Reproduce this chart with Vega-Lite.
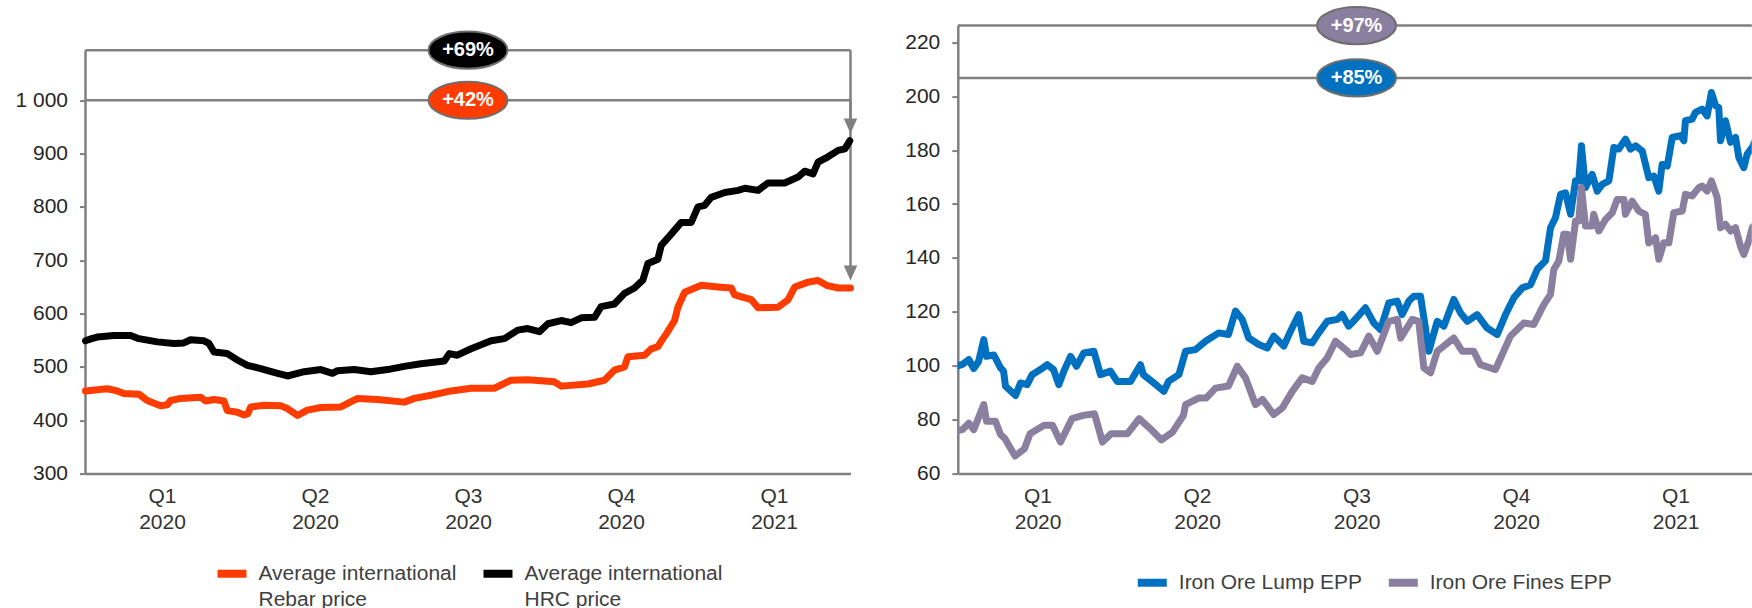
{
 "$schema": "https://vega.github.io/schema/vega-lite/v6.json",
 "padding": {"left": 14.5, "top": 2.6, "right": 0, "bottom": 0},
 "background": "white",
 "spacing": 46.3,
 "config": {
  "font": "Liberation Sans",
  "view": {"stroke": null},
  "axis": {"grid": false, "domainColor": "#808080", "domainWidth": 2.5, "tickColor": "#808080", "tickWidth": 2, "tickSize": 6, "labelColor": "#262626", "labelFont": "Liberation Sans", "title": null},
  "legend": {"title": null, "orient": "none", "direction": "horizontal", "symbolType": "stroke", "symbolStrokeWidth": 8, "symbolSize": 841, "labelFontSize": 21, "labelColor": "#404040", "labelOffset": 8, "columnPadding": 10, "labelLimit": 400},
  "style": {"guide-label": {"lineHeight": 26}}
 },
 "resolve": {"scale": {"color": "independent", "fill": "independent", "x": "independent", "y": "independent"}, "legend": {"color": "independent"}},
 "hconcat": [
  {
   "width": 765, "height": 448,
   "layer": [
    {
     "data": {"values": [
      {"x": 0, "x2": 5, "y": 1094, "y2": 1094},
      {"x": 0, "x2": 5, "y": 1000, "y2": 1000},
      {"x": 0, "x2": 0, "y": 300, "y2": 1094},
      {"x": 5, "x2": 5, "y": 1094, "y2": 962},
      {"x": 5, "x2": 5, "y": 1000, "y2": 688}
     ]},
     "mark": {"type": "rule", "color": "#808080", "strokeWidth": 2.5},
     "encoding": {
      "x": {"field": "x", "type": "quantitative", "scale": {"domain": [0, 5], "nice": false, "zero": false},
            "axis": {"values": [0.5, 1.5, 2.5, 3.5, 4.5], "ticks": false, "labelFontSize": 21, "labelColor": "#333333", "labelPadding": 12, "labelLineHeight": 26,
                     "labelExpr": "datum.value < 1 ? ['Q1','2020'] : datum.value < 2 ? ['Q2','2020'] : datum.value < 3 ? ['Q3','2020'] : datum.value < 4 ? ['Q4','2020'] : ['Q1','2021']"}},
      "x2": {"field": "x2"},
      "y": {"field": "y", "type": "quantitative", "scale": {"domain": [300, 1140], "nice": false, "zero": false},
            "axis": {"values": [300, 400, 500, 600, 700, 800, 900, 1000], "domain": false, "labelFontSize": 21, "labelPadding": 12,
                     "labelExpr": "datum.value == 1000 ? '1 000' : datum.label"}},
      "y2": {"field": "y2"}
     }
    },
    {
     "data": {"values": [
      {"s":"HRC","q":0,"v":549},{"s":"HRC","q":0.04,"v":553},{"s":"HRC","q":0.077,"v":556},{"s":"HRC","q":0.185,"v":559},{"s":"HRC","q":0.295,"v":559},{"s":"HRC","q":0.349,"v":553},{"s":"HRC","q":0.469,"v":547},{"s":"HRC","q":0.578,"v":544},{"s":"HRC","q":0.643,"v":545},{"s":"HRC","q":0.687,"v":551},{"s":"HRC","q":0.774,"v":549},{"s":"HRC","q":0.807,"v":544},{"s":"HRC","q":0.84,"v":528},{"s":"HRC","q":0.927,"v":525},{"s":"HRC","q":0.993,"v":513},{"s":"HRC","q":1.058,"v":503},{"s":"HRC","q":1.145,"v":497},{"s":"HRC","q":1.232,"v":490},{"s":"HRC","q":1.32,"v":483},{"s":"HRC","q":1.429,"v":491},{"s":"HRC","q":1.538,"v":495},{"s":"HRC","q":1.614,"v":488},{"s":"HRC","q":1.647,"v":493},{"s":"HRC","q":1.756,"v":495},{"s":"HRC","q":1.865,"v":491},{"s":"HRC","q":1.974,"v":495},{"s":"HRC","q":2.083,"v":501},{"s":"HRC","q":2.192,"v":506},{"s":"HRC","q":2.345,"v":511},{"s":"HRC","q":2.378,"v":525},{"s":"HRC","q":2.43,"v":522},{"s":"HRC","q":2.52,"v":534},{"s":"HRC","q":2.651,"v":549},{"s":"HRC","q":2.738,"v":553},{"s":"HRC","q":2.825,"v":569},{"s":"HRC","q":2.89,"v":572},{"s":"HRC","q":2.967,"v":566},{"s":"HRC","q":3.022,"v":581},{"s":"HRC","q":3.109,"v":587},{"s":"HRC","q":3.174,"v":583},{"s":"HRC","q":3.24,"v":592},{"s":"HRC","q":3.327,"v":593},{"s":"HRC","q":3.37,"v":613},{"s":"HRC","q":3.457,"v":618},{"s":"HRC","q":3.523,"v":638},{"s":"HRC","q":3.588,"v":648},{"s":"HRC","q":3.643,"v":663},{"s":"HRC","q":3.676,"v":694},{"s":"HRC","q":3.741,"v":702},{"s":"HRC","q":3.763,"v":728},{"s":"HRC","q":3.828,"v":749},{"s":"HRC","q":3.894,"v":771},{"s":"HRC","q":3.959,"v":771},{"s":"HRC","q":4.003,"v":800},{"s":"HRC","q":4.047,"v":803},{"s":"HRC","q":4.09,"v":818},{"s":"HRC","q":4.178,"v":827},{"s":"HRC","q":4.265,"v":831},{"s":"HRC","q":4.31,"v":835},{"s":"HRC","q":4.396,"v":831},{"s":"HRC","q":4.461,"v":845},{"s":"HRC","q":4.57,"v":845},{"s":"HRC","q":4.657,"v":856},{"s":"HRC","q":4.701,"v":867},{"s":"HRC","q":4.755,"v":862},{"s":"HRC","q":4.788,"v":884},{"s":"HRC","q":4.853,"v":894},{"s":"HRC","q":4.919,"v":906},{"s":"HRC","q":4.963,"v":909},{"s":"HRC","q":4.995,"v":924},
      {"s":"Rebar","q":0,"v":455},{"s":"Rebar","q":0.142,"v":459},{"s":"Rebar","q":0.207,"v":455},{"s":"Rebar","q":0.25,"v":450},{"s":"Rebar","q":0.349,"v":449},{"s":"Rebar","q":0.403,"v":437},{"s":"Rebar","q":0.491,"v":427},{"s":"Rebar","q":0.534,"v":429},{"s":"Rebar","q":0.556,"v":437},{"s":"Rebar","q":0.622,"v":441},{"s":"Rebar","q":0.753,"v":443},{"s":"Rebar","q":0.785,"v":436},{"s":"Rebar","q":0.84,"v":439},{"s":"Rebar","q":0.905,"v":436},{"s":"Rebar","q":0.927,"v":418},{"s":"Rebar","q":0.993,"v":415},{"s":"Rebar","q":1.036,"v":410},{"s":"Rebar","q":1.06,"v":412},{"s":"Rebar","q":1.08,"v":425},{"s":"Rebar","q":1.167,"v":428},{"s":"Rebar","q":1.276,"v":427},{"s":"Rebar","q":1.32,"v":422},{"s":"Rebar","q":1.385,"v":409},{"s":"Rebar","q":1.45,"v":419},{"s":"Rebar","q":1.538,"v":424},{"s":"Rebar","q":1.669,"v":425},{"s":"Rebar","q":1.778,"v":441},{"s":"Rebar","q":1.909,"v":439},{"s":"Rebar","q":2.083,"v":434},{"s":"Rebar","q":2.149,"v":441},{"s":"Rebar","q":2.258,"v":447},{"s":"Rebar","q":2.389,"v":455},{"s":"Rebar","q":2.52,"v":460},{"s":"Rebar","q":2.672,"v":460},{"s":"Rebar","q":2.781,"v":475},{"s":"Rebar","q":2.89,"v":476},{"s":"Rebar","q":3.065,"v":472},{"s":"Rebar","q":3.109,"v":464},{"s":"Rebar","q":3.283,"v":468},{"s":"Rebar","q":3.392,"v":475},{"s":"Rebar","q":3.457,"v":494},{"s":"Rebar","q":3.523,"v":500},{"s":"Rebar","q":3.545,"v":519},{"s":"Rebar","q":3.654,"v":522},{"s":"Rebar","q":3.698,"v":534},{"s":"Rebar","q":3.741,"v":538},{"s":"Rebar","q":3.763,"v":548},{"s":"Rebar","q":3.796,"v":562},{"s":"Rebar","q":3.85,"v":587},{"s":"Rebar","q":3.872,"v":612},{"s":"Rebar","q":3.916,"v":640},{"s":"Rebar","q":4.025,"v":653},{"s":"Rebar","q":4.134,"v":650},{"s":"Rebar","q":4.221,"v":648},{"s":"Rebar","q":4.243,"v":635},{"s":"Rebar","q":4.352,"v":626},{"s":"Rebar","q":4.396,"v":611},{"s":"Rebar","q":4.526,"v":612},{"s":"Rebar","q":4.592,"v":626},{"s":"Rebar","q":4.636,"v":650},{"s":"Rebar","q":4.723,"v":659},{"s":"Rebar","q":4.788,"v":662},{"s":"Rebar","q":4.843,"v":653},{"s":"Rebar","q":4.919,"v":648},{"s":"Rebar","q":5.0,"v":648}
     ]},
     "mark": {"type": "line", "strokeWidth": 7, "strokeJoin": "round", "strokeCap": "round"},
     "encoding": {
      "x": {"field": "q", "type": "quantitative"},
      "y": {"field": "v", "type": "quantitative"},
      "color": {"field": "s", "type": "nominal", "scale": {"domain": ["Rebar", "HRC"], "range": ["#FF3C00", "#000000"]},
                "legend": {"legendX": 128, "legendY": 529.4, "labelExpr": "datum.label == 'Rebar' ? ['Average international','Rebar price'] : ['Average international','HRC price']"}}
     }
    },
    {
     "data": {"values": [{"x": 5, "y": 937.5}, {"x": 5, "y": 662}]},
     "mark": {"type": "point", "shape": "M-0.45,-1L0.45,-1L0,0Z", "filled": true, "color": "#808080", "size": 900, "opacity": 1},
     "encoding": {"x": {"field": "x", "type": "quantitative"}, "y": {"field": "y", "type": "quantitative"}}
    },
    {
     "data": {"values": [{"x": 2.5, "y": 1094, "t": "+69%", "s": "HRC"}, {"x": 2.5, "y": 1000, "t": "+42%", "s": "Rebar"}]},
     "layer": [
      {
       "mark": {"type": "point", "shape": "M-1,0C-1,-0.26 -0.552,-0.47 0,-0.47C0.552,-0.47 1,-0.26 1,0C1,0.26 0.552,0.47 0,0.47C-0.552,0.47 -1,0.26 -1,0Z", "filled": true, "size": 6241, "stroke": "#6e6e6e", "strokeWidth": 2, "opacity": 1},
       "encoding": {"x": {"field": "x", "type": "quantitative"}, "y": {"field": "y", "type": "quantitative"},
                    "fill": {"field": "s", "type": "nominal", "scale": {"domain": ["Rebar", "HRC"], "range": ["#FF3C00", "#000000"]}, "legend": null}}
      },
      {
       "mark": {"type": "text", "color": "white", "fontWeight": "bold", "fontSize": 20, "baseline": "middle", "align": "center"},
       "encoding": {"x": {"field": "x", "type": "quantitative"}, "y": {"field": "y", "type": "quantitative"}, "text": {"field": "t"}}
      }
     ]
    }
   ]
  },
  {
   "width": 794, "height": 448,
   "layer": [
    {
     "data": {"values": [
      {"x": 0, "x2": 4.978, "y": 226.2, "y2": 226.2},
      {"x": 0, "x2": 4.978, "y": 206.8, "y2": 206.8}
     ]},
     "mark": {"type": "rule", "color": "#808080", "strokeWidth": 2.5},
     "encoding": {
      "x": {"field": "x", "type": "quantitative", "scale": {"domain": [0, 4.978], "nice": false, "zero": false},
            "axis": {"values": [0.5, 1.5, 2.5, 3.5, 4.5], "ticks": false, "labelFontSize": 21, "labelColor": "#333333", "labelPadding": 12, "labelLineHeight": 26,
                     "labelExpr": "datum.value < 1 ? ['Q1','2020'] : datum.value < 2 ? ['Q2','2020'] : datum.value < 3 ? ['Q3','2020'] : datum.value < 4 ? ['Q4','2020'] : ['Q1','2021']"}},
      "x2": {"field": "x2"},
      "y": {"field": "y", "type": "quantitative", "scale": {"domain": [60, 226.2], "nice": false, "zero": false},
            "axis": {"values": [60, 80, 100, 120, 140, 160, 180, 200, 220], "labelFontSize": 21, "labelPadding": 12}},
      "y2": {"field": "y2"}
     }
    },
    {
     "data": {"values": [
      {"s":"Lump","q":0,"v":100},{"s":"Lump","q":0.029,"v":100.5},{"s":"Lump","q":0.069,"v":102.3},{"s":"Lump","q":0.1,"v":99},{"s":"Lump","q":0.13,"v":101.6},{"s":"Lump","q":0.163,"v":109.7},{"s":"Lump","q":0.18,"v":103.5},{"s":"Lump","q":0.226,"v":104},{"s":"Lump","q":0.268,"v":99.2},{"s":"Lump","q":0.287,"v":98},{"s":"Lump","q":0.299,"v":92.4},{"s":"Lump","q":0.362,"v":89},{"s":"Lump","q":0.393,"v":93.6},{"s":"Lump","q":0.435,"v":93},{"s":"Lump","q":0.466,"v":96.7},{"s":"Lump","q":0.518,"v":98.6},{"s":"Lump","q":0.561,"v":100.4},{"s":"Lump","q":0.6,"v":98.6},{"s":"Lump","q":0.633,"v":93},{"s":"Lump","q":0.665,"v":98},{"s":"Lump","q":0.707,"v":103.5},{"s":"Lump","q":0.744,"v":99.8},{"s":"Lump","q":0.79,"v":104.8},{"s":"Lump","q":0.853,"v":105.4},{"s":"Lump","q":0.895,"v":96.7},{"s":"Lump","q":0.957,"v":98},{"s":"Lump","q":0.999,"v":94.2},{"s":"Lump","q":1.083,"v":94.2},{"s":"Lump","q":1.145,"v":100.4},{"s":"Lump","q":1.164,"v":96.7},{"s":"Lump","q":1.229,"v":93.6},{"s":"Lump","q":1.292,"v":90.5},{"s":"Lump","q":1.321,"v":94.2},{"s":"Lump","q":1.386,"v":96.7},{"s":"Lump","q":1.428,"v":105.4},{"s":"Lump","q":1.49,"v":106},{"s":"Lump","q":1.553,"v":109.1},{"s":"Lump","q":1.636,"v":112.2},{"s":"Lump","q":1.697,"v":111.6},{"s":"Lump","q":1.741,"v":120.3},{"s":"Lump","q":1.783,"v":117.2},{"s":"Lump","q":1.824,"v":110.3},{"s":"Lump","q":1.887,"v":107.9},{"s":"Lump","q":1.94,"v":106.6},{"s":"Lump","q":1.981,"v":111},{"s":"Lump","q":2.044,"v":107.3},{"s":"Lump","q":2.086,"v":112.8},{"s":"Lump","q":2.138,"v":119},{"s":"Lump","q":2.169,"v":109.1},{"s":"Lump","q":2.222,"v":108.5},{"s":"Lump","q":2.263,"v":112.2},{"s":"Lump","q":2.316,"v":116.5},{"s":"Lump","q":2.379,"v":117.2},{"s":"Lump","q":2.41,"v":119},{"s":"Lump","q":2.45,"v":114.7},{"s":"Lump","q":2.481,"v":116.5},{"s":"Lump","q":2.556,"v":121.5},{"s":"Lump","q":2.608,"v":115.9},{"s":"Lump","q":2.65,"v":113.4},{"s":"Lump","q":2.702,"v":123.3},{"s":"Lump","q":2.755,"v":124},{"s":"Lump","q":2.786,"v":119},{"s":"Lump","q":2.828,"v":124},{"s":"Lump","q":2.859,"v":125.8},{"s":"Lump","q":2.901,"v":125.8},{"s":"Lump","q":2.932,"v":114},{"s":"Lump","q":2.953,"v":105.4},{"s":"Lump","q":3.006,"v":116.5},{"s":"Lump","q":3.047,"v":114.7},{"s":"Lump","q":3.11,"v":124.6},{"s":"Lump","q":3.152,"v":119.6},{"s":"Lump","q":3.194,"v":116.5},{"s":"Lump","q":3.256,"v":119},{"s":"Lump","q":3.319,"v":114},{"s":"Lump","q":3.382,"v":111.6},{"s":"Lump","q":3.434,"v":119},{"s":"Lump","q":3.486,"v":125.2},{"s":"Lump","q":3.539,"v":128.9},{"s":"Lump","q":3.591,"v":130.1},{"s":"Lump","q":3.633,"v":135.8},{"s":"Lump","q":3.685,"v":139},{"s":"Lump","q":3.716,"v":151.2},{"s":"Lump","q":3.747,"v":154.9},{"s":"Lump","q":3.779,"v":163.6},{"s":"Lump","q":3.81,"v":164.2},{"s":"Lump","q":3.842,"v":156.2},{"s":"Lump","q":3.873,"v":168.6},{"s":"Lump","q":3.893,"v":168.6},{"s":"Lump","q":3.91,"v":181.6},{"s":"Lump","q":3.935,"v":166.1},{"s":"Lump","q":3.977,"v":171},{"s":"Lump","q":4.009,"v":164.8},{"s":"Lump","q":4.04,"v":167.3},{"s":"Lump","q":4.082,"v":168.6},{"s":"Lump","q":4.113,"v":181},{"s":"Lump","q":4.144,"v":180.4},{"s":"Lump","q":4.186,"v":184.1},{"s":"Lump","q":4.218,"v":180.4},{"s":"Lump","q":4.249,"v":181.6},{"s":"Lump","q":4.291,"v":179.7},{"s":"Lump","q":4.332,"v":169.8},{"s":"Lump","q":4.364,"v":170.4},{"s":"Lump","q":4.395,"v":164.8},{"s":"Lump","q":4.416,"v":174.7},{"s":"Lump","q":4.448,"v":174.1},{"s":"Lump","q":4.479,"v":184.7},{"s":"Lump","q":4.531,"v":185.4},{"s":"Lump","q":4.552,"v":183.5},{"s":"Lump","q":4.562,"v":190.9},{"s":"Lump","q":4.604,"v":191.5},{"s":"Lump","q":4.625,"v":194},{"s":"Lump","q":4.667,"v":195.2},{"s":"Lump","q":4.698,"v":192.7},{"s":"Lump","q":4.725,"v":201.4},{"s":"Lump","q":4.751,"v":196.5},{"s":"Lump","q":4.771,"v":195.8},{"s":"Lump","q":4.782,"v":183.5},{"s":"Lump","q":4.813,"v":190.9},{"s":"Lump","q":4.845,"v":182.9},{"s":"Lump","q":4.876,"v":184.7},{"s":"Lump","q":4.897,"v":177.2},{"s":"Lump","q":4.928,"v":173.5},{"s":"Lump","q":4.949,"v":178.5},{"s":"Lump","q":4.981,"v":181},{"s":"Lump","q":5.033,"v":188}
     ]},
     "mark": {"type": "line", "strokeWidth": 7, "strokeJoin": "round", "strokeCap": "round", "clip": true},
     "encoding": {
      "x": {"field": "q", "type": "quantitative"},
      "y": {"field": "v", "type": "quantitative"},
      "color": {"field": "s", "type": "nominal", "scale": {"domain": ["Lump", "Fines"], "range": ["#0070C0", "#8A7F9F"]},
                "legend": {"legendX": 176, "legendY": 538.4, "labelExpr": "datum.label == 'Lump' ? 'Iron Ore Lump EPP' : 'Iron Ore Fines EPP'"}}
     }
    },
    {
     "data": {"values": [
      {"s":"Fines","q":0,"v":76},{"s":"Fines","q":0.029,"v":76.3},{"s":"Fines","q":0.069,"v":78.7},{"s":"Fines","q":0.1,"v":76.3},{"s":"Fines","q":0.163,"v":85.6},{"s":"Fines","q":0.18,"v":79.4},{"s":"Fines","q":0.236,"v":79.4},{"s":"Fines","q":0.268,"v":74.5},{"s":"Fines","q":0.296,"v":72.9},{"s":"Fines","q":0.359,"v":66.5},{"s":"Fines","q":0.418,"v":69.2},{"s":"Fines","q":0.453,"v":74.8},{"s":"Fines","q":0.541,"v":77.9},{"s":"Fines","q":0.594,"v":77.9},{"s":"Fines","q":0.644,"v":71.7},{"s":"Fines","q":0.716,"v":80.4},{"s":"Fines","q":0.786,"v":81.6},{"s":"Fines","q":0.857,"v":82.2},{"s":"Fines","q":0.907,"v":71.7},{"s":"Fines","q":0.961,"v":74.8},{"s":"Fines","q":1.064,"v":74.8},{"s":"Fines","q":1.137,"v":80.4},{"s":"Fines","q":1.206,"v":76.7},{"s":"Fines","q":1.277,"v":72.5},{"s":"Fines","q":1.346,"v":75.4},{"s":"Fines","q":1.415,"v":81.6},{"s":"Fines","q":1.428,"v":85.6},{"s":"Fines","q":1.509,"v":88},{"s":"Fines","q":1.557,"v":88},{"s":"Fines","q":1.616,"v":91.7},{"s":"Fines","q":1.697,"v":92.5},{"s":"Fines","q":1.752,"v":99.8},{"s":"Fines","q":1.804,"v":95.5},{"s":"Fines","q":1.866,"v":85.6},{"s":"Fines","q":1.91,"v":87.5},{"s":"Fines","q":1.981,"v":81.9},{"s":"Fines","q":2.034,"v":84.3},{"s":"Fines","q":2.097,"v":90.5},{"s":"Fines","q":2.159,"v":95.5},{"s":"Fines","q":2.222,"v":94.2},{"s":"Fines","q":2.263,"v":99.2},{"s":"Fines","q":2.316,"v":102.9},{"s":"Fines","q":2.368,"v":109.1},{"s":"Fines","q":2.431,"v":106},{"s":"Fines","q":2.462,"v":104.2},{"s":"Fines","q":2.525,"v":104.8},{"s":"Fines","q":2.577,"v":111},{"s":"Fines","q":2.63,"v":105.4},{"s":"Fines","q":2.702,"v":116.5},{"s":"Fines","q":2.755,"v":117.2},{"s":"Fines","q":2.777,"v":110.3},{"s":"Fines","q":2.849,"v":117.2},{"s":"Fines","q":2.89,"v":116.5},{"s":"Fines","q":2.922,"v":99.2},{"s":"Fines","q":2.964,"v":97.4},{"s":"Fines","q":3.006,"v":105.4},{"s":"Fines","q":3.11,"v":110.3},{"s":"Fines","q":3.162,"v":105.4},{"s":"Fines","q":3.235,"v":105.4},{"s":"Fines","q":3.277,"v":100.4},{"s":"Fines","q":3.371,"v":98.6},{"s":"Fines","q":3.465,"v":111},{"s":"Fines","q":3.549,"v":115.9},{"s":"Fines","q":3.611,"v":115.3},{"s":"Fines","q":3.674,"v":122.7},{"s":"Fines","q":3.716,"v":126.5},{"s":"Fines","q":3.737,"v":135.8},{"s":"Fines","q":3.768,"v":138.8},{"s":"Fines","q":3.799,"v":148.8},{"s":"Fines","q":3.821,"v":148.8},{"s":"Fines","q":3.842,"v":139.5},{"s":"Fines","q":3.873,"v":153.7},{"s":"Fines","q":3.893,"v":153.7},{"s":"Fines","q":3.91,"v":166.1},{"s":"Fines","q":3.935,"v":151.9},{"s":"Fines","q":3.977,"v":151.9},{"s":"Fines","q":3.987,"v":156.2},{"s":"Fines","q":4.019,"v":150},{"s":"Fines","q":4.061,"v":154.3},{"s":"Fines","q":4.103,"v":156.8},{"s":"Fines","q":4.134,"v":161.7},{"s":"Fines","q":4.176,"v":161.7},{"s":"Fines","q":4.186,"v":156.2},{"s":"Fines","q":4.228,"v":161.1},{"s":"Fines","q":4.27,"v":157.4},{"s":"Fines","q":4.311,"v":156.2},{"s":"Fines","q":4.332,"v":145.6},{"s":"Fines","q":4.375,"v":147.5},{"s":"Fines","q":4.395,"v":139.5},{"s":"Fines","q":4.426,"v":145.6},{"s":"Fines","q":4.458,"v":145.6},{"s":"Fines","q":4.489,"v":156.8},{"s":"Fines","q":4.542,"v":157.4},{"s":"Fines","q":4.562,"v":163.6},{"s":"Fines","q":4.604,"v":163},{"s":"Fines","q":4.646,"v":166.1},{"s":"Fines","q":4.667,"v":166.7},{"s":"Fines","q":4.698,"v":164.8},{"s":"Fines","q":4.725,"v":168.6},{"s":"Fines","q":4.761,"v":162.4},{"s":"Fines","q":4.782,"v":151.2},{"s":"Fines","q":4.813,"v":152.5},{"s":"Fines","q":4.845,"v":150},{"s":"Fines","q":4.876,"v":151.2},{"s":"Fines","q":4.907,"v":144.4},{"s":"Fines","q":4.928,"v":141.3},{"s":"Fines","q":4.959,"v":146.3},{"s":"Fines","q":4.981,"v":151.2},{"s":"Fines","q":5.033,"v":155}
     ]},
     "mark": {"type": "line", "strokeWidth": 7, "strokeJoin": "round", "strokeCap": "round", "clip": true},
     "encoding": {
      "x": {"field": "q", "type": "quantitative"},
      "y": {"field": "v", "type": "quantitative"},
      "color": {"field": "s", "type": "nominal"}
     }
    },
    {
     "data": {"values": [{"x": 2.5, "y": 226.2, "t": "+97%", "s": "Fines"}, {"x": 2.5, "y": 206.8, "t": "+85%", "s": "Lump"}]},
     "layer": [
      {
       "mark": {"type": "point", "shape": "M-1,0C-1,-0.26 -0.552,-0.47 0,-0.47C0.552,-0.47 1,-0.26 1,0C1,0.26 0.552,0.47 0,0.47C-0.552,0.47 -1,0.26 -1,0Z", "filled": true, "size": 6241, "stroke": "#6e6e6e", "strokeWidth": 2, "opacity": 1},
       "encoding": {"x": {"field": "x", "type": "quantitative"}, "y": {"field": "y", "type": "quantitative"},
                    "fill": {"field": "s", "type": "nominal", "scale": {"domain": ["Lump", "Fines"], "range": ["#0070C0", "#8A7F9F"]}, "legend": null}}
      },
      {
       "mark": {"type": "text", "color": "white", "fontWeight": "bold", "fontSize": 20, "baseline": "middle", "align": "center"},
       "encoding": {"x": {"field": "x", "type": "quantitative"}, "y": {"field": "y", "type": "quantitative"}, "text": {"field": "t"}}
      }
     ]
    }
   ]
  }
 ]
}
